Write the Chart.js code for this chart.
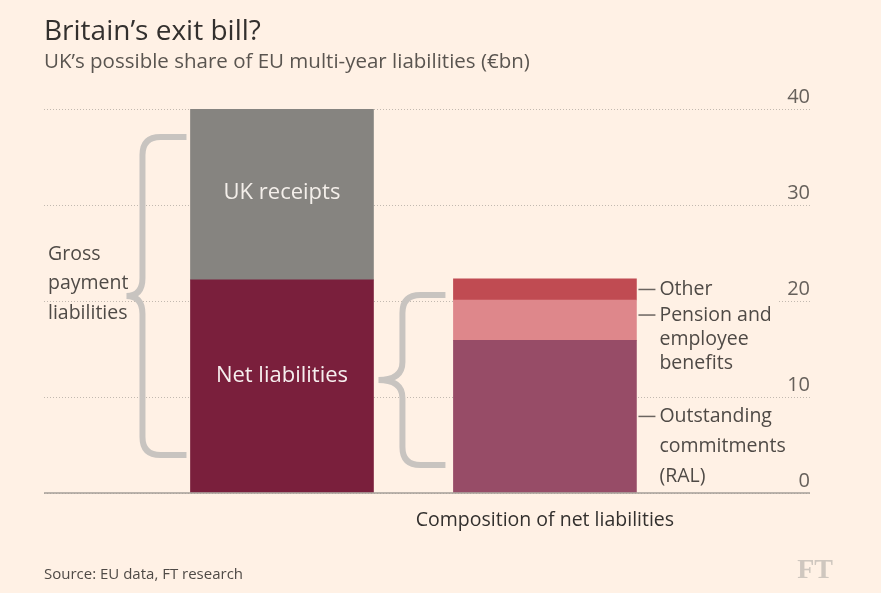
<!DOCTYPE html>
<html>
<head>
<meta charset="utf-8">
<script src="https://cdn.jsdelivr.net/npm/chart.js@4/dist/chart.umd.min.js"></script>
<style>
  html, body { margin: 0; padding: 0; background: #fff1e5; }
  canvas { display: block; }
</style>
</head>
<body>
<canvas id="exit-bill-chart" width="881" height="593"></canvas>
<script>
// values (EUR bn)
var barPositions = [0, 1];
var netLiabilities = [22.2, null];
var ukReceipts = [18.1, null];
var outstandingCommitments = [null, 15.9];
var pensionBenefits = [null, 4.2];
var otherLiabilities = [null, 2.2];
var yTicks = [0, 10, 20, 30, 40];

(
    function () {
        var canvas = document.getElementById("exit-bill-chart");
        var FONT = "'Open Sans', sans-serif";
        var BG = "#fff1e5";

        function toPoints(values) {
            return values
                .map(function (v, i) { return { x: barPositions[i], y: v }; })
                .filter(function (p) { return p.y !== null; });
        }

        function text(ctx, str, x, y, size, color, align) {
            ctx.font = size + "px " + FONT;
            ctx.fillStyle = color;
            ctx.textAlign = align || "left";
            ctx.textBaseline = "middle";
            ctx.fillText(str, x, y);
        }

        // curly brace pointing left
        function brace(ctx, armX, spineX, tipX, top, bottom) {
            var mid = (top + bottom) / 2, r = 18;
            ctx.beginPath();
            ctx.moveTo(armX, top);
            ctx.lineTo(spineX + r, top);
            ctx.quadraticCurveTo(spineX, top, spineX, top + r);
            ctx.lineTo(spineX, mid - r);
            ctx.quadraticCurveTo(spineX, mid, tipX, mid);
            ctx.quadraticCurveTo(spineX, mid, spineX, mid + r);
            ctx.lineTo(spineX, bottom - r);
            ctx.quadraticCurveTo(spineX, bottom, spineX + r, bottom);
            ctx.lineTo(armX, bottom);
            ctx.stroke();
        }

        var annotations = {
            id: "annotations",
            afterDatasetsDraw: function (chart) {
                var ctx = chart.ctx,
                    y = chart.scales.y,
                    area = chart.chartArea,
                    net = chart.getDatasetMeta(0).data[0],
                    receipts = chart.getDatasetMeta(1).data[0],
                    ral = chart.getDatasetMeta(2).data[0],
                    pension = chart.getDatasetMeta(3).data[0],
                    other = chart.getDatasetMeta(4).data[0],
                    y0 = y.getPixelForValue(0),
                    leftEdge = net.x - net.width / 2,
                    rightEdge = net.x + net.width / 2,
                    ralLeft = ral.x - ral.width / 2,
                    ralRight = ral.x + ral.width / 2;

                ctx.save();

                // hide the 20 gridline behind the labels
                ctx.fillStyle = BG;
                ctx.fillRect(ralRight + 1, y.getPixelForValue(20) - 3, area.right - 34 - ralRight, 6);

                // baseline
                ctx.strokeStyle = "#a59e97";
                ctx.lineWidth = 1.5;
                ctx.beginPath();
                ctx.moveTo(area.left, y0);
                ctx.lineTo(area.right, y0);
                ctx.stroke();

                // braces
                ctx.strokeStyle = "#c8c4c0";
                ctx.lineWidth = 6;
                ctx.lineCap = "butt";
                brace(ctx, leftEdge - 4, leftEdge - 48, leftEdge - 64, receipts.y + 31, y0 - 38);
                brace(ctx, ralLeft - 8, ralLeft - 51, rightEdge + 5, net.y + 15, y0 - 28);

                // labels inside bars
                text(ctx, "UK receipts", receipts.x, (receipts.y + receipts.base) / 2, 22, "#f4efea", "center");
                text(ctx, "Net liabilities", net.x, (net.y + net.base) / 2 - 10, 22, "#f6eeee", "center");

                // gross payment liabilities
                var gMid = (receipts.y + 31 + y0 - 38) / 2;
                text(ctx, "Gross", 48, gMid - 42, 19.5, "#4f4a46");
                text(ctx, "payment", 48, gMid - 13, 19.5, "#4f4a46");
                text(ctx, "liabilities", 48, gMid + 17, 19.5, "#4f4a46");

                // composition labels with leader dashes
                ctx.strokeStyle = "#6b6560";
                ctx.lineWidth = 1.5;
                function dash(yy) {
                    ctx.beginPath();
                    ctx.moveTo(ralRight + 2, yy);
                    ctx.lineTo(ralRight + 19, yy);
                    ctx.stroke();
                }
                var tx = ralRight + 23, c = "#4f4a46";
                var oY = (other.y + other.base) / 2;
                dash(oY);
                text(ctx, "Other", tx, oY, 19.5, c);
                var pY = pension.y + 15;
                dash(pY);
                text(ctx, "Pension and", tx, pY, 19.5, c);
                text(ctx, "employee", tx, pY + 24, 19.5, c);
                text(ctx, "benefits", tx, pY + 48, 19.5, c);
                var rY = (ral.y + ral.base) / 2;
                dash(rY);
                text(ctx, "Outstanding", tx, rY, 19.5, c);
                text(ctx, "commitments", tx, rY + 30, 19.5, c);
                text(ctx, "(RAL)", tx, rY + 60, 19.5, c);

                text(ctx, "Composition of net liabilities", ral.x, y0 + 27, 19.5, "#33302e", "center");

                // heading and footer
                text(ctx, "Britain\u2019s exit bill?", 44, 32, 28, "#33302e");
                text(ctx, "UK\u2019s possible share of EU multi-year liabilities (\u20acbn)", 44, 62, 20.5, "#5a5550");
                text(ctx, "Source: EU data, FT research", 44, 575, 15, "#4f4a46");
                ctx.font = "bold 28px 'Liberation Serif', serif";
                ctx.fillStyle = "#cfc7bf";
                ctx.textAlign = "right";
                ctx.fillText("FT", 833, 571);

                ctx.restore();
            }
        };

        new Chart(canvas, {
            type: "bar",
            data: {
                datasets: [
                    { label: "Net liabilities", data: toPoints(netLiabilities), backgroundColor: "#7a1f3c" },
                    { label: "UK receipts", data: toPoints(ukReceipts), backgroundColor: "#868480" },
                    { label: "Outstanding commitments (RAL)", data: toPoints(outstandingCommitments), backgroundColor: "#974c67" },
                    { label: "Pension and employee benefits", data: toPoints(pensionBenefits), backgroundColor: "#de878b" },
                    { label: "Other", data: toPoints(otherLiabilities), backgroundColor: "#c04b52" }
                ]
            },
            options: {
                responsive: false,
                animation: false,
                layout: { padding: { left: 44, right: 71, top: 109, bottom: 100 } },
                datasets: { bar: { barThickness: 183, borderWidth: 0 } },
                plugins: { legend: { display: false }, tooltip: { enabled: false } },
                scales: {
                    x: {
                        type: "linear",
                        stacked: true,
                        display: false,
                        offset: false,
                        min: -0.905,
                        max: 2.008
                    },
                    y: {
                        stacked: true,
                        position: "right",
                        min: 0,
                        max: 40,
                        afterBuildTicks: function (axis) {
                            axis.ticks = yTicks.map(function (v) { return { value: v }; });
                        },
                        grid: { color: "#c2b9b0", drawTicks: false, lineWidth: 1 },
                        border: { display: false, dash: [1, 2] },
                        ticks: {
                            mirror: true,
                            padding: 0,
                            labelOffset: -12,
                            color: "#66605b",
                            font: { family: "'Open Sans', sans-serif", size: 20 }
                        }
                    }
                }
            },
            plugins: [annotations]
        });
    }
)();
</script>
</body>
</html>
